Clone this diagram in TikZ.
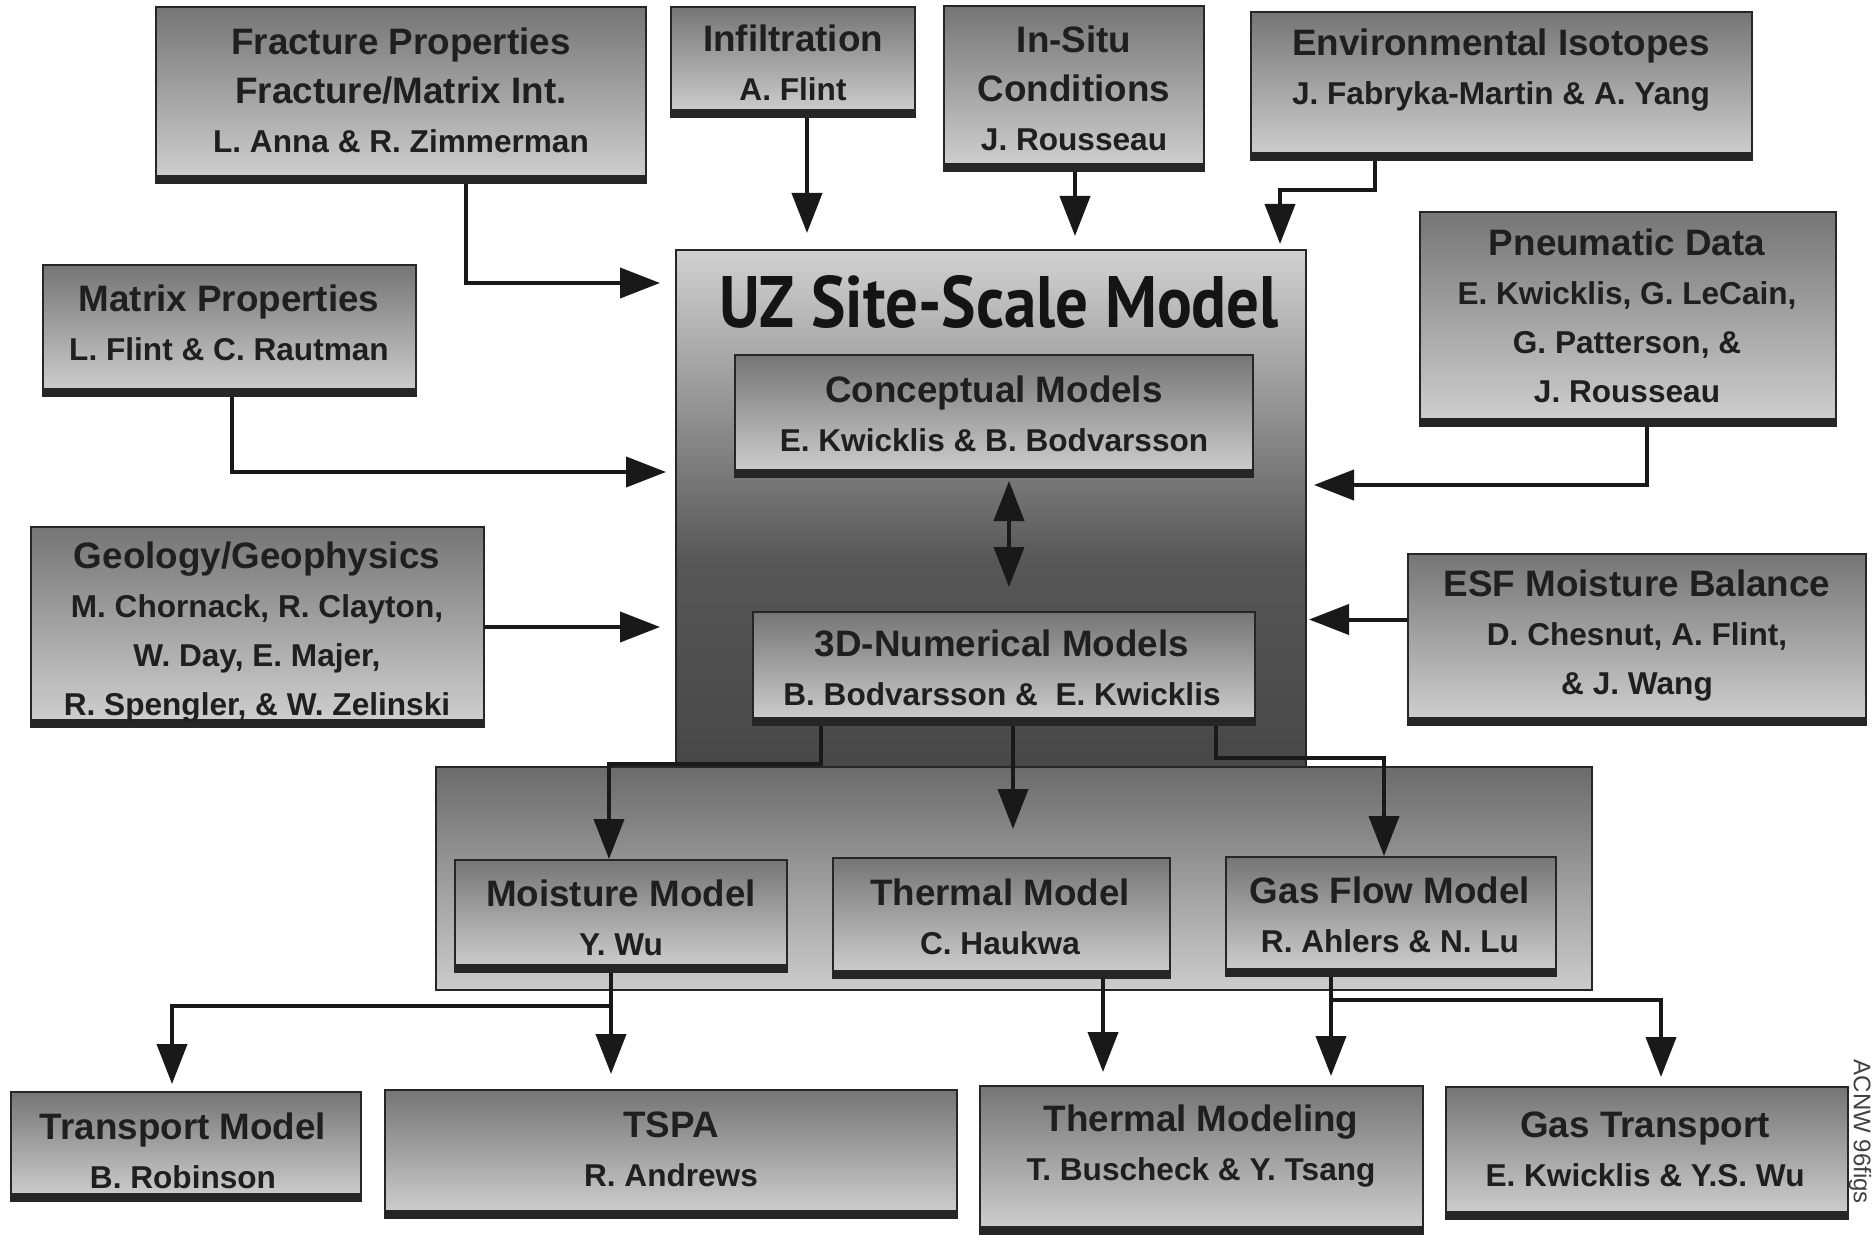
\documentclass[tikz,border=0pt]{standalone}
\usepackage{fontspec}
\setmainfont{Liberation Sans}
\newfontfamily\uztitlefont{PT Sans}
\usetikzlibrary{arrows.meta,fit}
\newcommand\tsz{\fontsize{18.4}{24.5}\selectfont}
\newcommand\nsz{\fontsize{15.8}{24.5}\selectfont}
\pgfdeclareverticalshading{uzshade}{100bp}{color(0bp)=(black!72); color(25bp)=(black!72); color(45bp)=(black!66); color(60bp)=(black!42); color(75bp)=(black!18); color(100bp)=(black!18)}
\tikzset{
  box/.style={draw=black!85, line width=1pt, inner sep=0pt, top color=black!54, bottom color=black!18,
    path picture={\fill[black!85] (path picture bounding box.south west) rectangle ([yshift=4pt]path picture bounding box.south east);}},
  bigbox/.style={draw=black!85, line width=1pt, inner sep=0pt, shade, shading=uzshade},
  lowbox/.style={draw=black!85, line width=1pt, inner sep=0pt, top color=black!58, bottom color=black!20},
  txt/.style={font=\bfseries\tsz, align=center, text=black!88, inner sep=0pt},
  arr/.style={draw=black!90, line width=2pt, -{Triangle[length=20pt,width=15pt]}},
  darr/.style={draw=black!90, line width=2pt, {Triangle[length=20pt,width=15pt]}-{Triangle[length=20pt,width=15pt]}}
}
\begin{document}
\begin{tikzpicture}[x=0.5pt,y=-0.5pt]
\useasboundingbox (0,0) rectangle (1873,1235);
% containers
\node[bigbox, fit={(676,250) (1306,770)}] (uz) {};
\node[lowbox, fit={(436,767) (1592,990)}] (low) {};
% boxes
\node[box, fit={(156,7) (646,183)}] (fp) {};
\node[box, fit={(671,7) (915,117)}] (inf) {};
\node[box, fit={(944,6) (1204,171)}] (isc) {};
\node[box, fit={(1251,12) (1752,160)}] (env) {};
\node[box, fit={(43,265) (416,396)}] (mp) {};
\node[box, fit={(1420,212) (1836,426)}] (pd) {};
\node[box, fit={(31,527) (484,727)}] (gg) {};
\node[box, fit={(1408,554) (1866,725)}] (esf) {};
\node[box, fit={(735,355) (1253,477)}] (cm) {};
\node[box, fit={(753,612) (1255,725)}] (nm) {};
\node[box, fit={(455,860) (787,972)}] (mm) {};
\node[box, fit={(833,858) (1170,978)}] (tm) {};
\node[box, fit={(1226,857) (1556,976)}] (gf) {};
\node[box, fit={(11,1092) (361,1201)}] (tr) {};
\node[box, fit={(385,1090) (957,1218)}] (tspa) {};
\node[box, fit={(980,1086) (1423,1234)}] (tmod) {};
\node[box, fit={(1446,1087) (1848,1219)}] (gt) {};
% connectors into the site-scale model
\draw[arr, shorten >=7.5pt] ([xshift=32.5pt]fp.south) |- ([yshift=-17pt]uz.north west);
\draw[arr, shorten >=8pt] ([xshift=7pt]inf.south) coordinate (a2s) -- (a2s |- uz.north);
\draw[arr, shorten >=6.5pt] ([xshift=0.5pt]isc.south) coordinate (a3s) -- (a3s |- uz.north);
\draw[arr, shorten >=2.5pt] ([xshift=-63.25pt]env.south) -- ++(0,29) -| ([xshift=-13.5pt]uz.north east);
\draw[arr, shorten >=4.5pt] ([xshift=1.25pt]mp.south) |- ([yshift=-111.5pt]uz.north west);
\draw[arr, shorten >=3.5pt] ([xshift=9.5pt]pd.south) |- ([yshift=-118pt]uz.north east);
\draw[arr, shorten >=7.5pt] (gg.east) -- (gg.east -| uz.west);
\draw[arr, shorten >=1pt] ([yshift=10pt]esf.west) coordinate (a8s) -- (a8s -| uz.east);
\draw[darr, shorten <=1.5pt, shorten >=12pt] ([xshift=7.5pt]cm.south) coordinate (a9s) -- (a9s |- nm.north);
% from numerical models
\draw[arr] ([xshift=-91.5pt]nm.south) -- ++(0,38) -| ([xshift=-6pt]mm.north);
\draw[arr, shorten >=14pt] ([xshift=4.5pt]nm.south) coordinate (a11s) -- (a11s |- tm.north);
\draw[arr] ([xshift=106pt]nm.south) -- ++(0,32) -| ([xshift=-3.5pt]gf.north);
% outputs
\draw[arr, shorten >=7.5pt] ([xshift=-5pt]mm.south) coordinate (a13s) -- (a13s |- tspa.north);
\draw[arr, shorten >=3.5pt] ([xshift=-5pt]mm.south) -- ++(0,33) -| ([xshift=-7pt]tr.north);
\draw[arr, shorten >=6.5pt] ([xshift=50.75pt]tm.south) coordinate (a15s) -- (a15s |- tmod.north);
\draw[arr, shorten >=4.5pt] ([xshift=-30pt]gf.south) coordinate (a16s) -- (a16s |- tmod.north);
\draw[arr, shorten >=4.5pt] ([xshift=-30pt]gf.south) -- ++(0,23) -| ([xshift=7pt]gt.north);
% texts
\node[inner sep=0pt, text=black!92] (uzt) at (999,302) {\resizebox{280pt}{26pt}{\uztitlefont\bfseries UZ Site-Scale Model}};
\node[txt] (fpt) at (401,90) {Fracture Properties\\Fracture/Matrix Int.\\\nsz L. Anna \& R. Zimmerman};
\node[txt] (inft) at (793,63) {Infiltration\\\nsz A. Flint};
\node[txt] (isct) at (1074,88) {In-Situ\\Conditions\\\nsz J. Rousseau};
\node[txt] (envt) at (1501,70) {Environmental Isotopes\\\nsz J. Fabryka-Martin \& A. Yang};
\node[txt] (mpt) at (229,323) {Matrix Properties\\\nsz L. Flint \& C. Rautman};
\node[txt] (pdt) at (1627,316) {Pneumatic Data\\\nsz E. Kwicklis, G. LeCain,\\\nsz G. Patterson, \&\\\nsz J. Rousseau};
\node[txt] (ggt) at (257,632) {Geology/Geophysics\\\nsz M. Chornack, R. Clayton,\\\nsz W. Day, E. Majer,\\\nsz R. Spengler, \& W. Zelinski};
\node[txt] (esft) at (1637,636) {ESF Moisture Balance\\\nsz D. Chesnut, A. Flint,\\\nsz \& J. Wang};
\node[txt] (cmt) at (994,414) {Conceptual Models\\\nsz E. Kwicklis \& B. Bodvarsson};
\node[txt] (nmt) at (1002,668) {3D-Numerical Models\\\nsz B. Bodvarsson \&~ E. Kwicklis};
\node[txt] (mmt) at (621,918) {Moisture Model\\\nsz Y. Wu};
\node[txt] (tmt) at (1000,917) {Thermal Model\\\nsz C. Haukwa};
\node[txt] (gft) at (1390,915) {Gas Flow Model\\\nsz R. Ahlers \& N. Lu};
\node[txt] (trt) at (183,1151) {Transport Model\\\nsz B. Robinson};
\node[txt] (tspat) at (671,1149) {TSPA\\\nsz R. Andrews};
\node[txt] (tmodt) at (1201,1146) {Thermal Modeling\\\nsz T. Buscheck \& Y. Tsang};
\node[txt] (gtt) at (1645,1149) {Gas Transport\\\nsz E. Kwicklis \& Y.S. Wu};
\node[rotate=-90, inner sep=0pt, text=black!75, font=\fontsize{12}{14}\selectfont] (acnw) at (1860,1132) {ACNW 96figs};
\end{tikzpicture}
\end{document}
